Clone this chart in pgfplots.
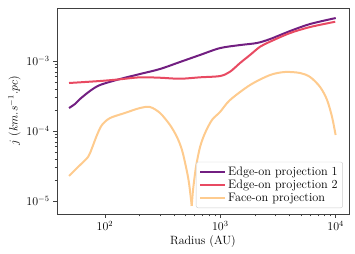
\documentclass[border=0pt]{standalone}
\usepackage{pgfplots}
\pgfplotsset{compat=1.18}
\definecolor{cA}{HTML}{721F81}
\definecolor{cB}{HTML}{E84A62}
\definecolor{cC}{HTML}{FECB8E}
\begin{document}
\begin{tikzpicture}
\begin{axis}[
  scale only axis, width=292bp, height=206bp,
  xmode=log, ymode=log,
  xmin=38.4, xmax=13040, ymin=6.52e-6, ymax=5.72e-3,
  axis line style={black!75, line width=0.8bp},
  tick align=outside, xtick pos=bottom, ytick pos=left,
  major tick length=4bp, minor tick length=2.3bp,
  every tick/.style={black!75, line width=0.6bp},
  xtick={100,1000,10000}, ytick={1e-5,1e-4,1e-3},
  tick label style={font=\fontsize{12}{14}\selectfont},
  label style={font=\fontsize{12}{14}\selectfont},
  xlabel={Radius (AU)},
  ylabel={$j\ (km.s^{-1}.pc)$},
  xlabel style={yshift=2bp},
  ylabel style={yshift=-1bp},
  legend style={at={(0.979,0.029)}, anchor=south east, font=\fontsize{12.3}{14}\selectfont,
    draw=black!20, rounded corners=2bp, fill=white, fill opacity=0.8, text opacity=1,
    row sep=-0.5bp, inner xsep=3bp, inner ysep=2.5bp},
  legend image code/.code={\draw[#1, line width=2bp] (0bp,0bp) -- (25bp,0bp);},
  legend cell align=left,
  every axis plot/.append style={line width=2bp, smooth, tension=0.5},
]
\coordinate (bl) at (rel axis cs:0,0);
\coordinate (tr) at (rel axis cs:1,1);
\addplot[cA] coordinates {
(48.8,2.13e-4) (54.9,2.43e-4) (60.7,2.86e-4) (74.1,3.73e-4) (90.6,4.54e-4)
(135,5.53e-4) (201,6.52e-4) (300,7.69e-4) (447,9.68e-4) (667,1.22e-3)
(994,1.53e-3) (1482,1.69e-3) (2080,1.81e-3) (2700,2.06e-3) (4020,2.68e-3)
(6000,3.38e-3) (10000,4.11e-3)};
\addlegendentry{Edge-on projection 1}
\addplot[cB] coordinates {
(48.8,4.85e-4) (90.6,5.18e-4) (135,5.48e-4) (201,5.85e-4) (300,5.77e-4)
(447,5.58e-4) (667,5.85e-4) (994,6.1e-4) (1213,7.03e-4) (1482,9.36e-4)
(1810,1.22e-3) (2210,1.6e-3) (2700,1.89e-3) (4020,2.51e-3) (6000,3.06e-3)
(9900,3.64e-3)};
\addlegendentry{Edge-on projection 2}
\addplot[cC] coordinates {
(48.8,2.28e-5) (58.4,3.06e-5) (71.3,4.25e-5) (77.2,5.71e-5) (85.3,8.77e-5)
(94.2,1.22e-4) (110.5,1.53e-4) (149,1.81e-4) (201,2.13e-4) (246,2.2e-4)
(300,1.81e-4) (366,1.22e-4) (421,8.2e-5) (465,5.36e-5) (504,3.06e-5)
(535,1.81e-5) (565,8.5e-6)};
\addlegendentry{Face-on projection}
\addplot[cC, forget plot] coordinates {
(565,8.5e-6) (580,1.44e-5) (615,3.06e-5) (667,5.9e-5) (737,9.36e-5)
(847,1.44e-4) (994,1.87e-4) (1213,2.77e-4) (1810,4.54e-4) (2700,6.31e-4)
(3640,6.97e-4) (4910,6.74e-4) (6000,5.91e-4) (7330,4.25e-4) (8420,2.77e-4)
(9300,1.58e-4) (9980,8.77e-5)};
\end{axis}
\pgfresetboundingbox
\path ([shift={(-57bp,-40bp)}]bl) rectangle ([shift={(6bp,8bp)}]tr);
\end{tikzpicture}
\end{document}
